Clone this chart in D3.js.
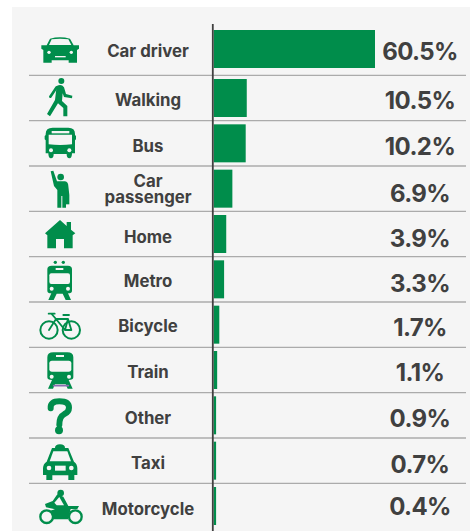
<!DOCTYPE html>
<html><head><meta charset="utf-8">
<script src="https://cdn.jsdelivr.net/npm/d3@7/dist/d3.min.js"></script>
<style>html,body{margin:0;padding:0;background:#fff}svg{display:block}text{font-family:Inter,sans-serif;font-weight:700;fill:#404040}</style>
</head><body><div id="c"></div>
<script>
const categories=["Car driver","Walking","Bus","Car passenger","Home","Metro","Bicycle","Train","Other","Taxi","Motorcycle"];
const shareLabels=[60.5,10.5,10.2,6.9,3.9,3.3,1.7,1.1,0.9,0.7,0.4];
// drawn bar lengths, on the scale of the longest bar
const barValues=[60.5,12.4,12.0,7.0,4.7,3.9,2.1,1.3,0.9,0.9,0.9];
const W=470,H=531,G="#008d4b",BG="#f5f5f5",INK="#404040";
const valueNudge=[10.5,11,11.7,13.6,12.7,12.4,11.3,11,11.7,12,9];
const labelNudge=[8.3,8,8.7,0,9,8,7,8,8.7,8,9];
const svg=d3.select("#c").append("svg").attr("width",W).attr("height",H);
svg.append("rect").attr("x",12).attr("y",7).attr("width",W-12).attr("height",H-7).attr("fill",BG);
const x=d3.scaleLinear().domain([0,60.5]).range([213.7,375]);
const y=d3.scaleLinear().domain([0,1,10]).range([49,98,506]);
const half=22.67;
svg.append("g").selectAll("line").data(categories.slice(1)).join("line")
 .attr("x1",29).attr("x2",466).attr("y1",(d,i)=>y(i+1)-half).attr("y2",(d,i)=>y(i+1)-half)
 .attr("stroke","#ababab").attr("stroke-width",1.3);
svg.append("g").selectAll("rect").data(barValues).join("rect")
 .attr("x",x(0)).attr("width",d=>x(d)-x(0)).attr("y",(d,i)=>y(i)-19).attr("height",38).attr("fill",G);
svg.append("line").attr("x1",212.8).attr("x2",212.8).attr("y1",24).attr("y2",H).attr("stroke",INK).attr("stroke-width",1.8);
const lab=svg.append("g").attr("text-anchor","middle").attr("font-size",16.8);
categories.forEach((c,i)=>{
  const t=lab.append("text").attr("x",148);
  if(c==="Car passenger"){
    t.append("tspan").attr("x",148).attr("y",y(i)-2).text("Car");
    t.append("tspan").attr("x",148).attr("y",y(i)+14.5).text("passenger");
  } else t.attr("y",y(i)+labelNudge[i]).text(c);
});
svg.append("g").attr("text-anchor","middle").attr("font-size",24).attr("letter-spacing","-0.6px").selectAll("text").data(shareLabels).join("text")
 .attr("x",420).attr("y",(d,i)=>y(i)+valueNudge[i]).text(d=>d.toFixed(1)+"%");
// Icons, each drawn in the 3x coordinates of its own crop (origin y0)
const icons=[
 {y0:0,parts:[
  {f:"M124,136H140L150,116Q180,108 210,116L221,136H237V146L231,150V188H206V181H155V188H130V150L124,146Z"},
  {b:"M147,135L155,118Q180,114 205,118L214,135Z"},{b:"M165,168H197V172H165Z"},{c:[147,157,5]},{c:[214,157,5]}]},
 {y0:0,parts:[{fc:[184,243,9]},
  {f:"M170,258Q184,250 192,262L198,282L217,287L216,295L192,291L188,280L186,303L202,318V349H190V324L174,310L150,349L141,342L165,300Z"},
  {s:"M170,262L151,290",w:8}]},
 {y0:0,parts:[
  {f:"M137,402Q137,383 158,383H205Q225,383 225,402V405L228,408V418L225,421V460H216Q216,475 208,475Q200,475 200,462H161Q161,475 153,475Q145,475 145,460H137V421L134,418V408L137,405Z"},
  {b:"M155,393H208V400H155Z"},{b:"M146,404H216V433Q180,437 146,433Z"},{c:[153,451,6]},{c:[208,451,6]}]},
 {y0:170,parts:[{fc:[182,21,10]},
  {f:"M152,4L160,2L171,34H195Q205,36 205,48L208,75H198V113H187V78H184V113H172V60L162,48Z"},
  {f:"M198,75H208V103H198Z"}]},
 {y0:170,parts:[
  {f:"M135,190L180,150L200,168V156H213V179L226,190L218,196V235H192V207H168V235H142V196Z"}]},
 {y0:170,parts:[{fc:[166,277,5]},{fc:[190,277,5]},
  {f:"M142,298Q142,287 155,287H204Q216,287 216,298V362Q216,370 204,370L213,390H197L188,371H170L161,390H145L154,370Q142,370 142,362Z"},
  {b:"M167,294H190V300H167Z"},{b:"M154,310H204Q210,310 210,316V335Q210,342 204,342H154Q148,342 148,335V316Q148,310 154,310Z"},{c:[155,356,6]},{c:[204,356,6]}]},
 {y0:170,parts:[
  {cs:[147,480,26],w:6},{cs:[214,480,26],w:6},
  {s:"M147,480L168,447H204L214,480H195L168,447M195,480L204,447M155,432L168,447M146,431H164M190,435H207",w:5.5,n:1}]},
 {y0:350,parts:[
  {f:"M142,22Q142,7 160,7H202Q220,7 220,22V82Q220,90 206,90L218,116H203L197,103H165L159,116H144L156,90Q142,90 142,82Z"},
  {b:"M168,15H192V21H168Z"},{b:"M156,32H206Q214,32 214,40V58Q214,65 206,65H156Q148,65 148,58V40Q148,32 156,32Z"},{c:[155,80,6]},{c:[207,80,6]},
  {s:"M161,107H205",w:5,col:"#8a6db0",n:1}]},
 {y0:350,parts:[
  {s:"M152,175Q150,154 178,154Q207,154 207,173Q207,186 192,193Q178,200 178,224",w:18,n:1},{fc:[177,241,12]}]},
 {y0:350,parts:[
  {f:"M165,294Q165,283 180,283Q195,283 195,294H205L222,335Q232,342 232,355V375H223V390H205V376H157V390H139V375H129V355Q129,342 140,335L156,294Z"},
  {b:"M160,304H202L213,334H149Z"},{b:"M165,347H197V362H165Z"},{c:[147,354,7]},{c:[214,354,7]}]},
 {y0:350,parts:[
  {cs:[140,500,19],w:7},{cs:[226,500,19],w:7},{fc:[182,429,10]},
  {f:"M135,462L158,453L172,433L190,440L205,468H237L232,477H212L204,508H160L150,482L165,478L138,472Z"},
  {b:"M163,458L178,441L192,466H170Z"}]}
];
icons.forEach(ic=>{
 const g=svg.append("g").attr("transform",`translate(0,${ic.y0}) scale(${1/3})`);
 ic.parts.forEach(p=>{
  if(p.f) g.append("path").attr("d",p.f).attr("fill",G);
  if(p.b) g.append("path").attr("d",p.b).attr("fill",BG);
  if(p.c) g.append("circle").attr("cx",p.c[0]).attr("cy",p.c[1]).attr("r",p.c[2]).attr("fill",BG);
  if(p.fc) g.append("circle").attr("cx",p.fc[0]).attr("cy",p.fc[1]).attr("r",p.fc[2]).attr("fill",G);
  if(p.cs) g.append("circle").attr("cx",p.cs[0]).attr("cy",p.cs[1]).attr("r",p.cs[2]).attr("fill","none").attr("stroke",G).attr("stroke-width",p.w);
  if(p.s) g.append("path").attr("d",p.s).attr("fill","none").attr("stroke",p.col||G).attr("stroke-width",p.w).attr("stroke-linecap","round").attr("stroke-linejoin","round");
 });
});
</script></body></html>
